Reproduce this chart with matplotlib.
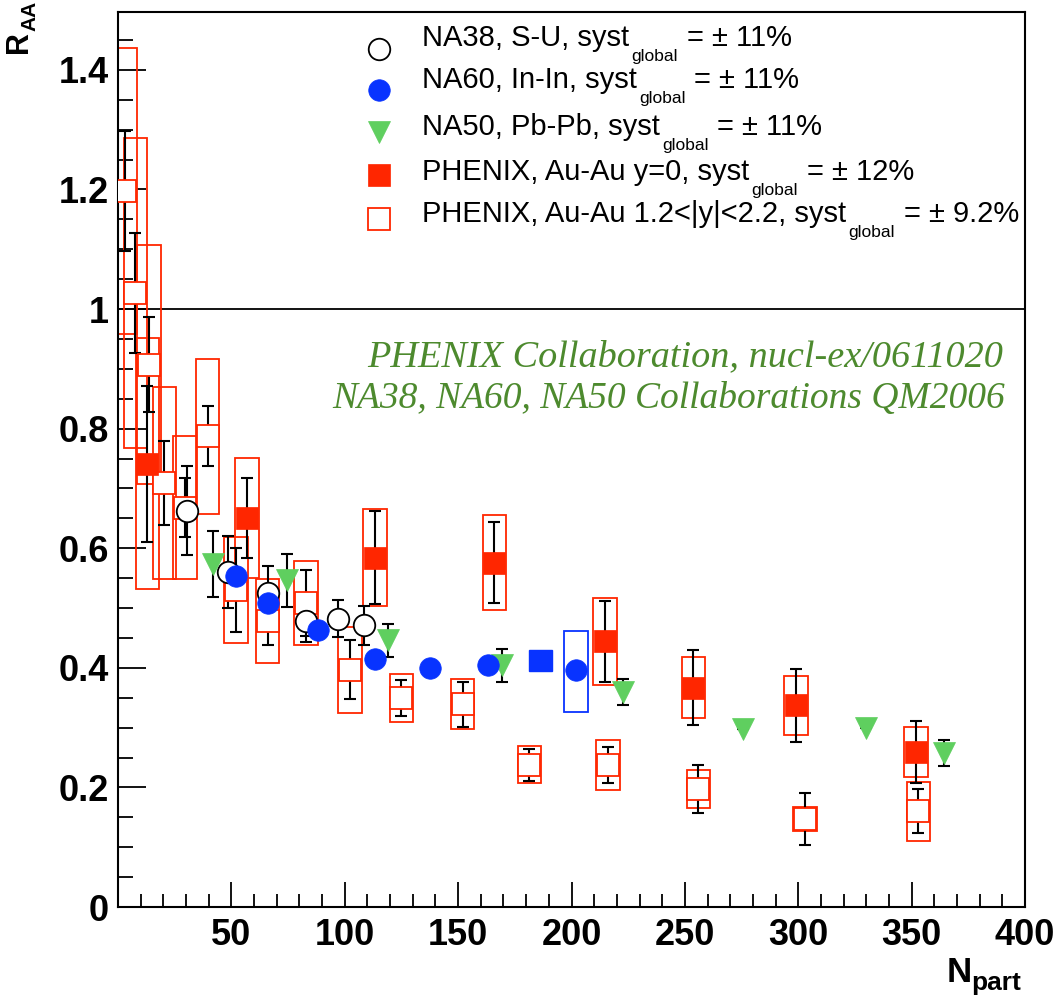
import matplotlib
matplotlib.use("Agg")
import matplotlib.pyplot as plt
from matplotlib.patches import Rectangle
from matplotlib.lines import Line2D
import numpy as np

# ---------------- data ----------------
# NA38, S-U (open circles)
na38_npart = [30.4, 48.5, 66.0, 83.0, 97.2, 108.3]
na38_raa = [0.663, 0.560, 0.525, 0.479, 0.482, 0.471]
na38_err = [0.075, 0.060, 0.045, 0.036, 0.031, 0.033]

# NA60, In-In (blue filled circles)
na60_npart = [52.0, 66.0, 88.4, 113.3, 137.5, 163.0, 202.0]
na60_raa = [0.553, 0.508, 0.464, 0.414, 0.400, 0.404, 0.396]
# NA60 point drawn as a filled box
na60_fbox_npart = [186.3]
na60_fbox_raa = [0.412]
na60_fbox_half = [0.018]
# NA60 open systematic box
na60_obox_npart = [202.0]
na60_obox_raa = [0.394]
na60_obox_half = [0.068]

# NA50, Pb-Pb (green down triangles)
na50_npart = [41.7, 74.5, 118.9, 169.5, 222.5, 275.6, 329.7, 364.3]
na50_raa = [0.574, 0.546, 0.446, 0.404, 0.360, 0.297, 0.300, 0.257]
na50_err = [0.055, 0.045, 0.028, 0.027, 0.022, 0.0, 0.0, 0.022]

# PHENIX, Au-Au y=0 (red filled squares)
phx_mid_npart = [13.0, 57.0, 113.3, 166.0, 214.8, 253.8, 299.0, 352.0]
phx_mid_raa = [0.741, 0.651, 0.584, 0.576, 0.444, 0.367, 0.337, 0.259]
phx_mid_stat = [0.13, 0.067, 0.078, 0.067, 0.068, 0.062, 0.061, 0.052]
phx_mid_syst = [0.21, 0.10, 0.081, 0.080, 0.072, 0.051, 0.050, 0.042]

# PHENIX, Au-Au 1.2<|y|<2.2 (red open squares)
phx_fwd_npart = [3.0, 7.7, 13.7, 20.5, 29.5, 39.5, 52.0, 66.0, 83.0, 102.3,
                 125.0, 152.0, 181.4, 216.0, 256.0, 303.0, 353.0]
phx_fwd_raa = [1.197, 1.027, 0.907, 0.709, 0.668, 0.787, 0.530, 0.478, 0.508, 0.397,
               0.349, 0.339, 0.238, 0.238, 0.197, 0.147, 0.160]
phx_fwd_stat = [0.10, 0.10, 0.08, 0.07, 0.05, 0.05, 0.07, 0.04, 0.055, 0.05,
                0.03, 0.038, 0.027, 0.03, 0.04, 0.043, 0.037]
phx_fwd_syst = [0.239, 0.259, 0.20, 0.16, 0.12, 0.129, 0.089, 0.07, 0.07, 0.072,
                0.04, 0.042, 0.031, 0.042, 0.032, 0.02, 0.049]

legend_labels = ["NA38, S-U, syst", "NA60, In-In, syst", "NA50, Pb-Pb, syst",
                 "PHENIX, Au-Au y=0, syst", "PHENIX, Au-Au 1.2<|y|<2.2, syst"]
legend_values = ["= ± 11%", "= ± 11%", "= ± 11%", "= ± 12%", "= ± 9.2%"]
notes = ["PHENIX Collaboration, nucl-ex/0611020",
         "NA38, NA60, NA50 Collaborations QM2006"]

x_major = [50, 100, 150, 200, 250, 300, 350, 400]
y_major = [0, 0.2, 0.4, 0.6, 0.8, 1.0, 1.2, 1.4]

# ---------------- style ----------------
RED = "#ff2600"
BLUE = "#0833ff"
GREEN = "#5fcf5f"
TXTGREEN = "#4d8a2e"
plt.rcParams["font.family"] = ["Liberation Sans", "DejaVu Sans"]

W, H = 1063, 997
fig = plt.figure(figsize=(W / 100, H / 100), dpi=100)
L, R_, T, B = 118, 1025, 12, 907
ax = fig.add_axes([L / W, (H - B) / H, (R_ - L) / W, (B - T) / H])
ax.set_xlim(0, 400)
ax.set_ylim(0, (B - T) / 598.0)

BOXW = 5.2  # half width of systematic boxes in Npart units

def fx(px):
    return px / W

def fy(py):
    return 1 - py / H

# reference line
ax.axhline(1.0, color="black", lw=1.3, zorder=1.5)

# systematic boxes (red, open)
for x, y, s in zip(phx_fwd_npart, phx_fwd_raa, phx_fwd_syst):
    ax.add_patch(Rectangle((x - BOXW, y - s), 2 * BOXW, 2 * s, fill=False,
                           edgecolor=RED, lw=1.3, zorder=2))
for x, y, s in zip(phx_mid_npart, phx_mid_raa, phx_mid_syst):
    ax.add_patch(Rectangle((x - BOXW, y - s), 2 * BOXW, 2 * s, fill=False,
                           edgecolor=RED, lw=1.3, zorder=2))
for x, y, s in zip(na60_obox_npart, na60_obox_raa, na60_obox_half):
    ax.add_patch(Rectangle((x - BOXW, y - s), 2 * BOXW, 2 * s, fill=False,
                           edgecolor=BLUE, lw=1.3, zorder=2))
for x, y, s in zip(na60_fbox_npart, na60_fbox_raa, na60_fbox_half):
    ax.add_patch(Rectangle((x - BOXW, y - s), 2 * BOXW, 2 * s, fill=True,
                           facecolor=BLUE, edgecolor=BLUE, lw=1.0, zorder=4))

# stat error bars
ekw = dict(fmt="none", ecolor="black", elinewidth=1.5, capsize=4.5, capthick=1.5, zorder=3)
ax.errorbar(phx_fwd_npart, phx_fwd_raa, yerr=phx_fwd_stat, **ekw)
ax.errorbar(phx_mid_npart, phx_mid_raa, yerr=phx_mid_stat, **ekw)
ax.errorbar(na38_npart, na38_raa, yerr=na38_err, **ekw)
ax.errorbar(na50_npart, na50_raa, yerr=na50_err, **ekw)

# markers
ax.plot(phx_fwd_npart, phx_fwd_raa, ls="none", marker="s", ms=16, mfc="white",
        mec=RED, mew=1.3, zorder=4)
ax.plot(phx_mid_npart, phx_mid_raa, ls="none", marker="s", ms=16, mfc=RED,
        mec=RED, mew=0.5, zorder=4.2)
ax.plot(na38_npart, na38_raa, ls="none", marker="o", ms=15.5, mfc="white",
        mec="black", mew=1.3, zorder=4.3)
ax.plot(na50_npart, na50_raa, ls="none", marker="v", ms=16, mfc=GREEN,
        mec=GREEN, mew=0.5, zorder=4.4)
ax.plot(na60_npart, na60_raa, ls="none", marker="o", ms=15.5, mfc=BLUE,
        mec=BLUE, mew=0.5, zorder=4.5)

# axes styling
for sp in ax.spines.values():
    sp.set_linewidth(1.5)
ax.set_xticks(x_major)
ax.set_xticks([v for v in range(10, 400, 10) if v % 50 != 0], minor=True)
ax.set_yticks(y_major)
ax.set_yticks([v / 100 for v in range(5, 150, 5) if v % 20 != 0], minor=True)
ax.set_xticklabels([f"{v:g}" for v in x_major])
ax.set_yticklabels([f"{v:g}" for v in y_major])
ax.xaxis.set_tick_params(which="major", direction="in", length=18, width=1.3,
                         labelsize=26, pad=8, top=False)
ax.xaxis.set_tick_params(which="minor", direction="in", length=9.5, width=1.3, top=False)
ax.yaxis.set_tick_params(which="major", direction="in", length=20, width=1.3,
                         labelsize=26, pad=6.5, right=False)
ax.yaxis.set_tick_params(which="minor", direction="in", length=11, width=1.3, right=False)
for lab in ax.get_xticklabels() + ax.get_yticklabels():
    lab.set_fontweight("bold")

# axis titles
fig.text(fx(27), fy(53), "R", rotation=90, rotation_mode="anchor", ha="left",
         va="baseline", fontsize=22, fontweight="bold")
fig.text(fx(35), fy(31), "AA", rotation=90, rotation_mode="anchor", ha="left",
         va="baseline", fontsize=15, fontweight="bold")
fig.text(fx(947), fy(982), "N", ha="left", va="baseline", fontsize=25, fontweight="bold")
fig.text(fx(971), fy(990), "part", ha="left", va="baseline", fontsize=19, fontweight="bold")

# green annotation
fig.text(fx(1003), fy(366), notes[0], ha="right", va="baseline", fontsize=27.5,
         family="Liberation Serif", style="italic", color=TXTGREEN)
fig.text(fx(1005), fy(408), notes[1], ha="right", va="baseline", fontsize=27,
         family="Liberation Serif", style="italic", color=TXTGREEN)

# legend
leg_marker_y = [49, 90, 132, 175, 219]
leg_base_y = [46, 88, 135, 180, 222]
leg_styles = [
    dict(marker="o", ms=15.5, mfc="white", mec="black", mew=1.3),
    dict(marker="o", ms=15.5, mfc=BLUE, mec=BLUE, mew=0.5),
    dict(marker="v", ms=16, mfc=GREEN, mec=GREEN, mew=0.5),
    dict(marker="s", ms=15.5, mfc=RED, mec=RED, mew=0.5),
    dict(marker="s", ms=15.5, mfc="white", mec=RED, mew=1.3),
]
for my, st in zip(leg_marker_y, leg_styles):
    fig.add_artist(Line2D([fx(379)], [fy(my)], ls="none", transform=fig.transFigure, **st))

fig.canvas.draw()
rend = fig.canvas.get_renderer()
for lab, val, by in zip(legend_labels, legend_values, leg_base_y):
    t1 = fig.text(fx(422), fy(by), lab, ha="left", va="baseline", fontsize=21)
    b1 = t1.get_window_extent(rend)
    t2 = fig.text((b1.x1 + 2) / W, fy(by + 15), "global", ha="left", va="baseline", fontsize=12.5)
    b2 = t2.get_window_extent(rend)
    fig.text((b2.x1 + 9) / W, fy(by), val, ha="left", va="baseline", fontsize=21)

fig.savefig("out.png", dpi=100)
